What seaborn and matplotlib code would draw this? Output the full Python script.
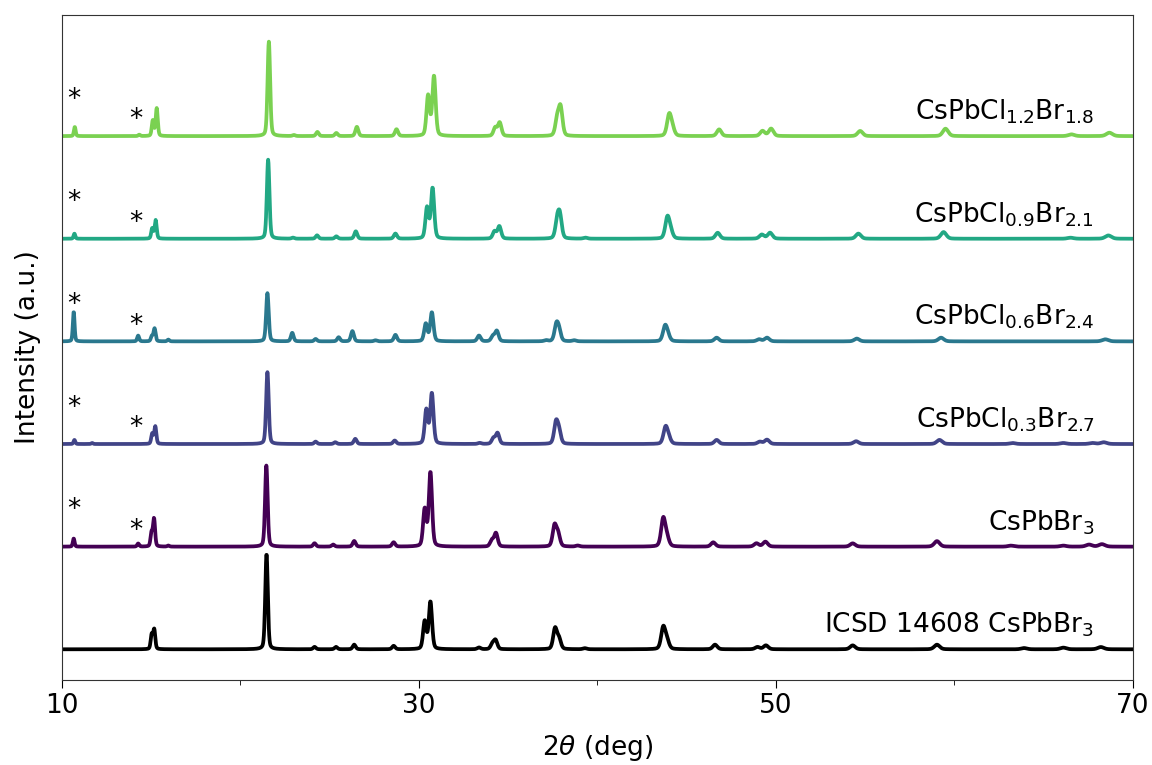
import numpy as np
import pandas as pd
import matplotlib
matplotlib.use("Agg")
import matplotlib.pyplot as plt
import seaborn as sns

# peak lists: position (deg 2theta) and height (offset units)
icsd_pos = [15.04, 15.18, 21.47, 24.16, 25.36, 26.38, 28.59, 30.33, 30.65, 33.37, 34.12, 34.30,
            37.63, 37.85, 39.3, 43.69, 43.9, 46.59, 48.97, 49.44, 54.3, 59.02, 63.9, 66.1, 68.2]
icsd_h = [0.14, 0.19, 0.93, 0.023, 0.023, 0.045, 0.033, 0.27, 0.46, 0.017, 0.05, 0.085,
          0.20, 0.10, 0.01, 0.21, 0.08, 0.045, 0.022, 0.038, 0.038, 0.045, 0.012, 0.016, 0.022]

br3_pos = [10.67, 14.28, 15.03, 15.17, 15.97, 21.46, 24.16, 25.2, 26.38, 28.59, 30.33, 30.65,
           34.09, 34.32, 37.6, 37.8, 38.9, 43.69, 43.9, 46.49, 48.91, 49.41, 54.3, 59.02,
           63.16, 66.1, 67.54, 68.26]
br3_h = [0.08, 0.03, 0.13, 0.27, 0.01, 0.79, 0.033, 0.02, 0.055, 0.042, 0.36, 0.72,
         0.06, 0.13, 0.2, 0.12, 0.01, 0.27, 0.08, 0.042, 0.032, 0.048, 0.032, 0.054,
         0.01, 0.01, 0.02, 0.024]

cl03_pos = [10.71, 11.7, 15.07, 15.24, 21.52, 24.22, 25.32, 26.44, 28.65, 30.42, 30.73, 33.41,
            34.18, 34.41, 37.68, 37.85, 43.82, 44.0, 46.68, 49.1, 49.5, 54.49, 59.16, 63.25,
            66.1, 67.73, 68.36]
cl03_h = [0.04, 0.01, 0.10, 0.17, 0.70, 0.023, 0.017, 0.05, 0.033, 0.33, 0.49, 0.01,
          0.055, 0.105, 0.2, 0.12, 0.16, 0.05, 0.04, 0.022, 0.042, 0.027, 0.04, 0.01,
          0.01, 0.01, 0.017]

cl06_pos = [10.67, 14.28, 15.05, 15.2, 15.97, 21.52, 22.91, 24.22, 25.51, 26.28, 27.57, 28.69,
            30.39, 30.73, 33.37, 34.15, 34.37, 37.13, 37.7, 37.85, 38.7, 43.79, 43.95, 46.68,
            49.06, 49.5, 54.53, 59.25, 68.45]
cl06_h = [0.29, 0.056, 0.05, 0.125, 0.017, 0.47, 0.083, 0.023, 0.04, 0.1, 0.01, 0.063,
          0.17, 0.28, 0.056, 0.05, 0.1, 0.01, 0.15, 0.1, 0.01, 0.14, 0.05, 0.036,
          0.02, 0.036, 0.027, 0.036, 0.02]

cl09_pos = [10.71, 15.07, 15.26, 21.56, 22.95, 24.3, 25.38, 26.47, 28.69, 30.46, 30.77, 34.24,
            34.51, 37.75, 37.9, 39.33, 43.92, 44.1, 46.74, 49.21, 49.67, 54.62, 59.39, 66.5,
            68.62]
cl09_h = [0.05, 0.10, 0.18, 0.77, 0.01, 0.033, 0.023, 0.072, 0.05, 0.30, 0.49, 0.07,
          0.12, 0.16, 0.21, 0.01, 0.2, 0.07, 0.058, 0.04, 0.058, 0.05, 0.065, 0.01,
          0.032]

cl12_pos = [10.73, 14.34, 15.1, 15.32, 21.6, 23.0, 24.32, 25.38, 26.53, 28.75, 30.52, 30.85,
            34.28, 34.53, 37.75, 37.94, 44.02, 44.2, 46.82, 49.25, 49.73, 54.72, 59.5, 66.55,
            68.68]
cl12_h = [0.09, 0.013, 0.15, 0.27, 0.92, 0.01, 0.04, 0.03, 0.09, 0.066, 0.39, 0.58,
          0.08, 0.13, 0.16, 0.27, 0.2, 0.07, 0.065, 0.05, 0.072, 0.05, 0.072, 0.017,
          0.033]

samples = ["ICSD 14608 CsPbBr$_3$", "CsPbBr$_3$", "CsPbCl$_{0.3}$Br$_{2.7}$",
           "CsPbCl$_{0.6}$Br$_{2.4}$", "CsPbCl$_{0.9}$Br$_{2.1}$", "CsPbCl$_{1.2}$Br$_{1.8}$"]
peaks = [(icsd_pos, icsd_h), (br3_pos, br3_h), (cl03_pos, cl03_h),
         (cl06_pos, cl06_h), (cl09_pos, cl09_h), (cl12_pos, cl12_h)]
offsets = [0, 1, 2, 3, 4, 5]
# impurity marks (*) on the measured samples
star_x = [10.69, 14.16]
star_dy = [0.435, 0.234]

two_theta = np.arange(10, 70.0001, 0.02)


def pattern(pos, h):
    y = np.zeros_like(two_theta)
    for p, a in zip(pos, h):
        w = 0.11 + 0.005 * (p - 10)
        sig = w / 2.3548
        g = np.exp(-0.5 * ((two_theta - p) / sig) ** 2)
        lor = (w / 2) ** 2 / ((two_theta - p) ** 2 + (w / 2) ** 2)
        y += a * (0.7 * g + 0.3 * lor)
    return y


frames = []
for name, (pos, h), off in zip(samples, peaks, offsets):
    frames.append(pd.DataFrame({"two_theta": two_theta,
                                "intensity": pattern(pos, h) + off,
                                "sample": name}))
df = pd.concat(frames, ignore_index=True)

cmap = matplotlib.colormaps["viridis"]
palette = {samples[0]: "black"}
for i, name in enumerate(samples[1:]):
    palette[name] = cmap(0.2 * i)

plt.rcParams["font.family"] = ["DejaVu Sans"]
fig, ax = plt.subplots(figsize=(11.52, 7.65), dpi=100)
fig.subplots_adjust(left=0.0536, right=0.9835, top=0.9804, bottom=0.111)

sns.lineplot(data=df, x="two_theta", y="intensity", hue="sample", palette=palette,
             estimator=None, linewidth=2.7, legend=False, ax=ax)

for name, off in zip(samples, offsets):
    ax.text(67.82, off + 0.16, name, ha="right", va="baseline", fontsize=19)
    if off > 0:
        for sx, sdy in zip(star_x, star_dy):
            ax.text(sx, off + sdy - 0.08, "*", ha="center", va="center", fontsize=19)

ax.set_xlim(10, 70)
ax.set_ylim(-0.3, 6.18)
ax.set_xticks([10, 30, 50, 70])
ax.set_xticks([20, 40, 60], minor=True)
ax.set_yticks([])
ax.tick_params(axis="x", which="major", labelsize=19, length=6)
ax.tick_params(axis="x", which="minor", length=3.5)
for s in ax.spines.values():
    s.set_color("0.2")
ax.set_xlabel(r"2$\theta$ (deg)", fontsize=19, labelpad=10)
ax.set_ylabel("Intensity (a.u.)", fontsize=19, labelpad=15)

fig.savefig("out.png", dpi=100)
